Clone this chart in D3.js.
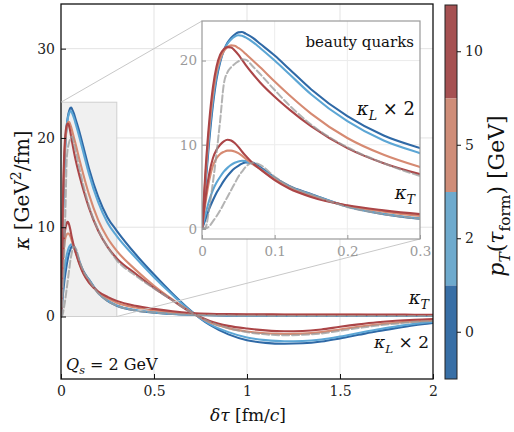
<!DOCTYPE html>
<html><head><meta charset="utf-8">
<script src="https://cdn.jsdelivr.net/npm/d3@7"></script>
<style>body{margin:0;background:#fff}</style>
</head><body><svg id="c" width="514" height="432"></svg>
<script>
// ---------------- data ----------------
const tGrid = [0,0.005,0.01,0.015,0.02,0.025,0.03,0.035,0.04,0.045,0.05,0.055,0.06,0.07,0.08,0.1,0.12,0.15,0.2,0.25,0.3,0.4,0.5,0.6,0.7,0.8,0.9,1.0,1.1,1.2,1.3,1.4,1.5,1.6,1.7,1.8,1.9,2.0];

// kappa_L x 2
const kL_gray = [0,0.2,2.5,5.5,9.0,12.9,17.2,18.6,19.2,19.6,19.9,20.15,20.1,19.3,18.4,16.5,14.7,12.4,9.7,7.8,6.3,4.6,3.15,1.8,0.45,-0.6,-1.3,-1.75,-2.0,-2.1,-2.05,-1.9,-1.6,-1.3,-1.02,-0.8,-0.62,-0.5];
const kL_pt0  = [0,5.5,10.5,14.7,17.8,19.8,21.2,22.1,22.7,23.1,23.35,23.4,23.2,22.7,22.0,20.6,19.0,16.6,13.4,11.1,9.6,7.0,4.7,2.55,0.6,-0.95,-2.0,-2.65,-2.95,-3.05,-3.0,-2.8,-2.45,-2.05,-1.65,-1.3,-0.98,-0.72];
const kL_pt2  = [0,6.0,11.2,15.3,18.2,20.0,21.2,22.0,22.5,22.85,23.0,22.95,22.75,22.2,21.5,20.0,18.4,16.0,12.8,10.5,9.0,6.6,4.4,2.4,0.55,-0.85,-1.75,-2.35,-2.65,-2.78,-2.75,-2.58,-2.25,-1.85,-1.45,-1.12,-0.82,-0.6];
const kL_pt5  = [0,6.5,12.0,16.0,18.7,20.2,21.1,21.6,21.8,21.75,21.5,21.2,20.8,20.0,19.2,17.5,15.9,13.7,10.8,8.8,7.35,5.25,3.45,1.9,0.5,-0.65,-1.3,-1.68,-1.88,-1.96,-1.92,-1.75,-1.45,-1.15,-0.9,-0.7,-0.55,-0.45];
const kL_pt10 = [0,7.2,12.8,16.8,19.3,20.7,21.35,21.6,21.55,21.2,20.7,20.1,19.5,18.4,17.4,15.7,14.2,12.2,9.6,7.8,6.5,4.8,3.2,1.8,0.45,-0.5,-1.05,-1.35,-1.55,-1.65,-1.62,-1.45,-1.15,-0.88,-0.65,-0.48,-0.36,-0.28];

// kappa_T
const kT_gray = [0,0.05,0.3,0.9,1.5,2.2,3.0,3.8,4.6,5.4,6.2,6.8,7.35,7.85,7.6,6.2,5.1,4.1,2.6,1.75,1.2,0.68,0.43,0.29,0.2,0.14,0.1,0.08,0.07,0.06,0.06,0.05,0.05,0.05,0.05,0.05,0.05,0.05];
const kT_pt0  = [0,1.2,2.4,3.4,4.3,5.0,5.7,6.3,6.8,7.2,7.5,7.75,7.9,7.85,7.35,6.1,5.1,4.15,2.65,1.75,1.2,0.68,0.43,0.29,0.2,0.14,0.1,0.08,0.07,0.07,0.06,0.06,0.06,0.06,0.06,0.06,0.06,0.06];
const kT_pt2  = [0,1.8,3.4,4.6,5.5,6.2,6.8,7.25,7.6,7.85,8.0,8.1,8.05,7.7,7.2,6.0,5.0,4.1,2.7,1.8,1.25,0.72,0.46,0.31,0.22,0.16,0.12,0.1,0.09,0.09,0.08,0.08,0.08,0.08,0.08,0.08,0.08,0.08];
const kT_pt5  = [0,3.2,5.8,7.5,8.4,8.9,9.15,9.3,9.3,9.2,9.0,8.7,8.35,7.7,7.1,5.9,4.9,3.9,2.75,2.05,1.55,1.0,0.7,0.48,0.34,0.26,0.22,0.2,0.19,0.19,0.18,0.18,0.18,0.18,0.17,0.17,0.17,0.17];
const kT_pt10 = [0,3.8,6.6,8.4,9.4,10.0,10.4,10.6,10.5,10.2,9.75,9.2,8.7,7.8,7.1,5.8,4.8,3.8,2.8,2.2,1.75,1.2,0.85,0.58,0.4,0.31,0.27,0.25,0.24,0.23,0.23,0.22,0.22,0.22,0.21,0.21,0.2,0.2];

const mainXTicks = [0,0.5,1,1.5,2];
const mainXLabels = ["0","0.5","1","1.5","2"];
const mainYTicks = [0,10,20,30];
const insetXTicks = [0,0.1,0.2,0.3];
const insetXLabels = ["0","0.1","0.2","0.3"];
const insetYTicks = [0,10,20];
const cbarLabels = ["10","5","2","0"];   // top to bottom
const cbarColors = ["#a65152","#cf8d78","#6eaacd","#386fa6"];
const lineColors = {pt0:"#2f69a6", pt2:"#5ca6d5", pt5:"#d68a72", pt10:"#ab4547", gray:"#9a9a9a"};

const FONT = "'DejaVu Serif', serif";

// ---------------- drawing ----------------
const svg = d3.select("#c");
const M = {l:61, r:433, t:4, b:379};
const x = d3.scaleLinear([0,2],[M.l,M.r]);
const y = d3.scaleLinear([-7,35],[M.b,M.t]);

const defs = svg.append("defs");
defs.append("clipPath").attr("id","clipMain").append("rect")
  .attr("x",M.l).attr("y",M.t).attr("width",M.r-M.l).attr("height",M.b-M.t);

const g = svg.append("g");
g.selectAll(".gx").data(mainXTicks.slice(1,-1)).join("line")
  .attr("x1",d=>x(d)).attr("x2",d=>x(d)).attr("y1",M.t).attr("y2",M.b)
  .attr("stroke","#e3e3e3").attr("stroke-width",1);
g.selectAll(".gy").data(mainYTicks).join("line")
  .attr("y1",d=>y(d)).attr("y2",d=>y(d)).attr("x1",M.l).attr("x2",M.r)
  .attr("stroke","#e3e3e3").attr("stroke-width",1);

g.append("rect").attr("x",x(0)).attr("y",y(24)).attr("width",x(0.3)-x(0)).attr("height",y(0)-y(24))
  .attr("fill","#f0f0f0").attr("stroke","#cfcfcf").attr("stroke-width",1);

const series = [
  {k:"pt0", L:kL_pt0, T:kT_pt0},
  {k:"pt2", L:kL_pt2, T:kT_pt2},
  {k:"pt5", L:kL_pt5, T:kT_pt5},
  {k:"pt10", L:kL_pt10, T:kT_pt10},
  {k:"gray", L:kL_gray, T:kT_gray}
];

function drawCurves(parent, xs, ys, clipId){
  const gg = parent.append("g").attr("clip-path",`url(#${clipId})`);
  const line = d3.line().x((d,i)=>xs(tGrid[i])).y(d=>ys(d)).curve(d3.curveMonotoneX);
  series.forEach(s=>{
    [s.T, s.L].forEach(arr=>{
      const p = gg.append("path").attr("d",line(arr)).attr("fill","none")
        .attr("stroke",lineColors[s.k]).attr("stroke-width",2.1)
        .attr("stroke-linejoin","round").attr("stroke-linecap","round");
      if(s.k==="gray") p.attr("stroke-dasharray","7,3").attr("opacity",0.75).attr("stroke-width",2);
    });
  });
}
drawCurves(svg, x, y, "clipMain");

svg.append("rect").attr("x",M.l).attr("y",M.t).attr("width",M.r-M.l).attr("height",M.b-M.t)
  .attr("fill","none").attr("stroke","#111").attr("stroke-width",1.3);

function styleAxis(sel, size, color){
  sel.select(".domain").remove();
  sel.selectAll("text").style("font-family",FONT).attr("font-size",size).attr("fill",color);
  sel.selectAll("line").attr("stroke",color==="#222"?"#111":color);
}

const xAxis = d3.axisBottom(x).tickValues(mainXTicks).tickFormat((d,i)=>mainXLabels[i])
  .tickSizeInner(-5).tickSizeOuter(0).tickPadding(7);
styleAxis(svg.append("g").attr("transform",`translate(0,${M.b})`).call(xAxis), 14, "#222");
const yAxis = d3.axisLeft(y).tickValues(mainYTicks).tickFormat(d3.format("d"))
  .tickSizeInner(-5).tickSizeOuter(0).tickPadding(6);
styleAxis(svg.append("g").attr("transform",`translate(${M.l},0)`).call(yAxis), 14, "#222");

function rich(parent, parts, size, attrs){
  const t = parent.append("text").attr("font-size",size).attr("fill","#111").style("font-family",FONT);
  Object.entries(attrs||{}).forEach(([k,v])=>t.attr(k,v));
  let off = 0;
  parts.forEach(p=>{
    const ts = t.append("tspan").text(p.t);
    if(p.it) ts.attr("font-style","italic");
    let target = 0, fs = size;
    if(p.sub){ target = size*0.28; fs = size*0.7; }
    if(p.sup){ target = -size*0.38; fs = size*0.7; }
    ts.attr("font-size",fs);
    if(target!==off){ ts.attr("dy", target-off); off = target; }
  });
  return t;
}

svg.append("line").attr("x1",x(0)).attr("y1",y(24)).attr("x2",202).attr("y2",21)
  .attr("stroke","#c8c8c8").attr("stroke-width",1);
svg.append("line").attr("x1",x(0.3)).attr("y1",y(0)).attr("x2",420).attr("y2",239)
  .attr("stroke","#c8c8c8").attr("stroke-width",1);

const I = {l:202, r:420, t:21, b:239};
const xi = d3.scaleLinear([0,0.3],[I.l,I.r]);
const yi = d3.scaleLinear([-1.2,24.7],[I.b,I.t]);
defs.append("clipPath").attr("id","clipInset").append("rect")
  .attr("x",I.l).attr("y",I.t).attr("width",I.r-I.l).attr("height",I.b-I.t);
const ig = svg.append("g");
ig.append("rect").attr("x",I.l).attr("y",I.t).attr("width",I.r-I.l).attr("height",I.b-I.t).attr("fill","#fff");
ig.selectAll(".igx").data(insetXTicks.slice(1,-1)).join("line")
  .attr("x1",d=>xi(d)).attr("x2",d=>xi(d)).attr("y1",I.t).attr("y2",I.b).attr("stroke","#ececec");
ig.selectAll(".igy").data(insetYTicks).join("line")
  .attr("y1",d=>yi(d)).attr("y2",d=>yi(d)).attr("x1",I.l).attr("x2",I.r).attr("stroke","#ececec");
drawCurves(ig, xi, yi, "clipInset");
ig.append("rect").attr("x",I.l).attr("y",I.t).attr("width",I.r-I.l).attr("height",I.b-I.t)
  .attr("fill","none").attr("stroke","#9a9a9a").attr("stroke-width",1.2);
const ixA = d3.axisBottom(xi).tickValues(insetXTicks).tickFormat((d,i)=>insetXLabels[i])
  .tickSizeInner(-4).tickSizeOuter(0).tickPadding(7);
styleAxis(ig.append("g").attr("transform",`translate(0,${I.b})`).call(ixA), 13.5, "#9a9a9a");
const iyA = d3.axisLeft(yi).tickValues(insetYTicks).tickFormat(d3.format("d"))
  .tickSizeInner(-4).tickSizeOuter(0).tickPadding(5);
styleAxis(ig.append("g").attr("transform",`translate(${I.l},0)`).call(iyA), 13.5, "#9a9a9a");

rich(svg,[{t:"beauty quarks"}],15,{x:414,y:47,"text-anchor":"end"});
rich(svg,[{t:"κ",it:1},{t:"L",it:1,sub:1},{t:" × 2"}],18,{x:415,y:115,"text-anchor":"end"});
rich(svg,[{t:"κ",it:1},{t:"T",it:1,sub:1}],18,{x:415,y:199,"text-anchor":"end"});

rich(svg,[{t:"κ",it:1},{t:"T",it:1,sub:1}],18,{x:429,y:304,"text-anchor":"end"});
rich(svg,[{t:"κ",it:1},{t:"L",it:1,sub:1},{t:" × 2"}],17,{x:429,y:348,"text-anchor":"end"});
rich(svg,[{t:"Q",it:1},{t:"s",it:1,sub:1},{t:" = 2 GeV"}],16,{x:66,y:370});

rich(svg,[{t:"δτ",it:1},{t:" [fm/"},{t:"c",it:1},{t:"]"}],17,{x:248,y:421,"text-anchor":"middle"});
rich(svg,[{t:"κ",it:1},{t:" [GeV"},{t:"2",sup:1},{t:"/fm]"}],20,{transform:"translate(29,190) rotate(-90)","text-anchor":"middle"});

const C = {l:445, r:457, t:5, b:379};
const cb = d3.scaleBand(cbarLabels,[C.t,C.b]);
svg.append("g").selectAll("rect").data(cbarLabels).join("rect")
  .attr("x",C.l).attr("width",C.r-C.l).attr("y",d=>cb(d)).attr("height",cb.bandwidth())
  .attr("fill",(d,i)=>cbarColors[i]);
svg.append("rect").attr("x",C.l).attr("y",C.t).attr("width",C.r-C.l).attr("height",C.b-C.t)
  .attr("fill","none").attr("stroke","#222").attr("stroke-width",1);
const cAx = d3.axisRight(cb).tickSizeInner(4).tickSizeOuter(0).tickPadding(4);
styleAxis(svg.append("g").attr("transform",`translate(${C.r},0)`).call(cAx), 14, "#222");
rich(svg,[{t:"p",it:1},{t:"T",it:1,sub:1},{t:"("},{t:"τ",it:1},{t:"form",sub:1},{t:") [GeV]"}],22,
  {transform:"translate(504,196) rotate(-90)","text-anchor":"middle"});
</script></body></html>
